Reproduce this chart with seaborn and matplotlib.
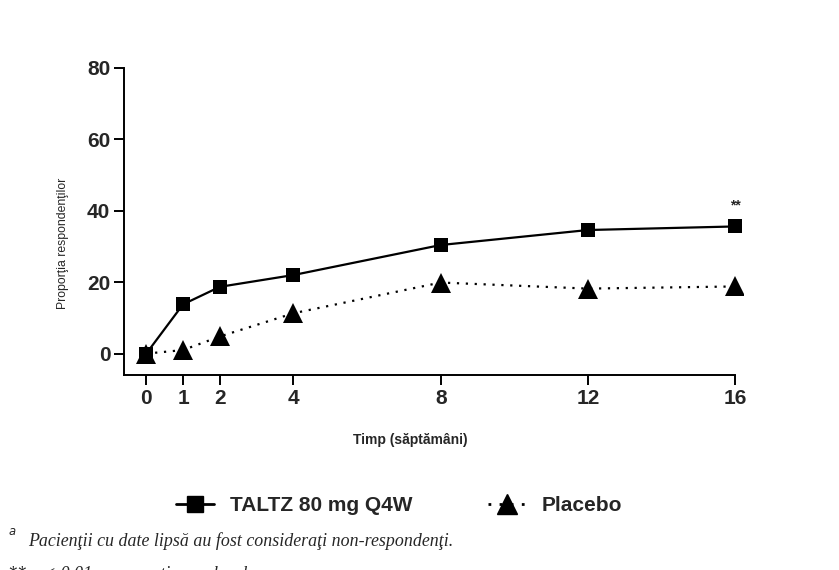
import numpy as np
import pandas as pd
import matplotlib
matplotlib.use("Agg")
import matplotlib.pyplot as plt
import seaborn as sns

# values
weeks = [0, 1, 2, 4, 8, 12, 16]
taltz = [0, 13.8, 18.7, 22.0, 30.4, 34.6, 35.6]
placebo = [0, 1.0, 4.8, 11.3, 19.9, 18.2, 18.8]
series_names = ["TALTZ 80 mg Q4W", "Placebo"]

df = pd.DataFrame({
    "week": weeks * 2,
    "value": taltz + placebo,
    "group": [series_names[0]] * len(weeks) + [series_names[1]] * len(weeks),
})

sns.set_style("white")
plt.rcParams["font.family"] = ["Liberation Sans", "DejaVu Sans"]

fig = plt.figure(figsize=(8.39, 5.70), dpi=100)
ax = fig.add_axes([0.148, 0.342, 0.737, 0.539])

sns.lineplot(data=df, x="week", y="value", hue="group", style="group",
             palette=["black", "black"],
             markers={series_names[0]: "s", series_names[1]: "^"},
             dashes={series_names[0]: "", series_names[1]: (1, 3)},
             markersize=10, linewidth=1.6, markeredgewidth=0,
             legend=False, ax=ax)
# bigger triangles
ax.lines[1].set_markersize(14)

ax.set_xlim(-0.6, 16.2)
ax.set_ylim(-6, 80)
ax.set_xticks(weeks)
ax.set_yticks([0, 20, 40, 60, 80])
for lab in ax.get_xticklabels() + ax.get_yticklabels():
    lab.set_fontweight("bold")
    lab.set_fontsize(15)
ax.tick_params(axis="both", direction="out", length=7, width=1.4, color="black",
               bottom=True, left=True, pad=3)
sns.despine(ax=ax)
for s in ["left", "bottom"]:
    ax.spines[s].set_linewidth(1.4)
    ax.spines[s].set_color("black")
ax.spines["bottom"].set_bounds(-0.6, 16)

ax.set_xlabel("Timp (săptămâni)", fontsize=10, fontweight="bold")
ax.xaxis.set_label_coords(0.463, -0.19)
ax.set_ylabel("Proporţia respondenţilor", fontsize=8.8)
ax.yaxis.set_label_coords(-0.09, 0.43)

ax.text(16, 39.5, "**", ha="center", va="bottom", fontsize=10, fontweight="bold")

# legend below the chart
h1 = plt.Line2D([], [], color="black", marker="s", linestyle="-", linewidth=2,
                markersize=12)
h2 = plt.Line2D([], [], color="black", marker="^", linestyle=(0, (1, 3)),
                linewidth=2, markersize=15)
fig.legend([h1, h2], series_names, loc="center", bbox_to_anchor=(0.476, 0.113),
           ncol=2, frameon=False, handlelength=1.8, columnspacing=3.6,
           prop={"weight": "bold", "size": 15})

fig.text(0.009, 0.052, "$^{a}$", fontsize=12, family="Liberation Serif",
         style="italic")
fig.text(0.033, 0.051, "Pacienţii cu date lipsă au fost consideraţi non-respondenţi.",
         fontsize=12.9, family="Liberation Serif", style="italic", va="center")
fig.text(0.009, -0.008, "** p < 0,01 comparativ cu placebo",
         fontsize=12.9, family="Liberation Serif", style="italic", va="center")

fig.savefig("out.png", dpi=100, facecolor="white")
